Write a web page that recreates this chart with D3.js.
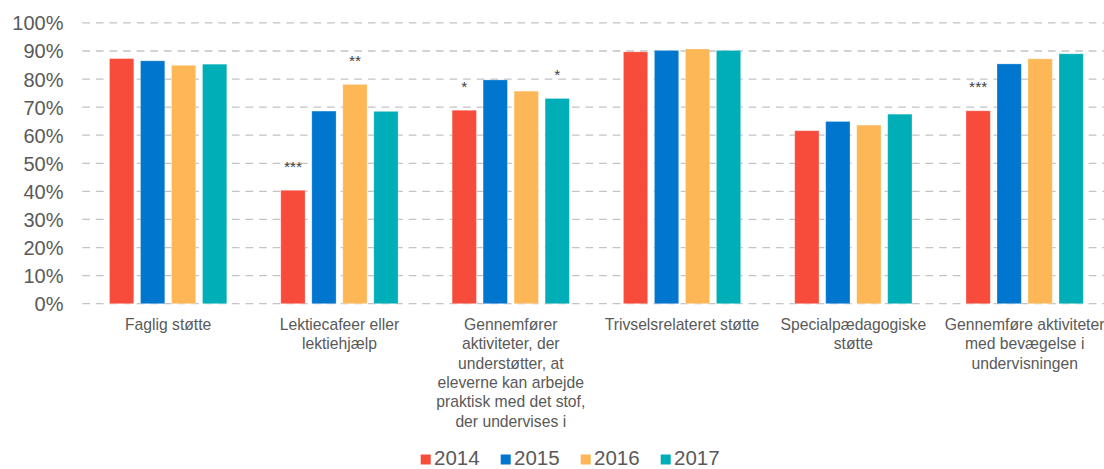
<!DOCTYPE html>
<html>
<head>
<meta charset="utf-8">
<script src="https://cdnjs.cloudflare.com/ajax/libs/d3/7.8.5/d3.min.js"></script>
<style>
html,body{margin:0;padding:0;background:#fff;}
svg{display:block;font-family:"Liberation Sans",Arial,sans-serif;}
</style>
</head>
<body>
<svg id="chart" width="1104" height="469"></svg>
<script>
const categories = ["Faglig støtte","Lektiecafeer eller lektiehjælp","Gennemfører aktiviteter, der understøtter, at eleverne kan arbejde praktisk med det stof, der undervises i","Trivselsrelateret støtte","Specialpædagogiske støtte","Gennemføre aktiviteter med bevægelse i undervisningen"];
const categoryLines = [
  ["Faglig støtte"],
  ["Lektiecafeer eller","lektiehjælp"],
  ["Gennemfører","aktiviteter, der","understøtter, at","eleverne kan arbejde","praktisk med det stof,","der undervises i"],
  ["Trivselsrelateret støtte"],
  ["Specialpædagogiske","støtte"],
  ["Gennemføre aktiviteter","med bevægelse i","undervisningen"]
];
const years = ["2014","2015","2016","2017"];
const v2014 = [0.873, 0.404, 0.689, 0.897, 0.616, 0.687];
const v2015 = [0.865, 0.686, 0.797, 0.902, 0.649, 0.854];
const v2016 = [0.849, 0.781, 0.757, 0.907, 0.636, 0.872];
const v2017 = [0.853, 0.685, 0.731, 0.902, 0.675, 0.890];
const yTicks = [0,0.1,0.2,0.3,0.4,0.5,0.6,0.7,0.8,0.9,1.0];
const tickLabels = ["0%","10%","20%","30%","40%","50%","60%","70%","80%","90%","100%"];
const markCats  = [1, 1, 2, 2, 5];
const markYears = ["2014","2016","2014","2017","2014"];
const markText  = ["***","**","*","*","***"];
const colors = ["#F74C3C","#0076CE","#FDB757","#00AEB8"];

const series = [v2014, v2015, v2016, v2017];
const svg = d3.select("#chart");

const x0 = d3.scaleBand().domain(categories).range([82.5, 1110.3]).paddingInner(0).paddingOuter(0);
const groupHalf = 58.65;
const x1 = d3.scaleBand().domain(years).range([-groupHalf, groupHalf]).paddingInner(0.216).paddingOuter(0);
const y = d3.scaleLinear().domain([0,1]).range([303.7, 22.9]);
const color = d3.scaleOrdinal().domain(years).range(colors);

// gridlines
svg.append("g").selectAll("line").data(yTicks).join("line")
  .attr("x1", 82.3).attr("x2", 1104)
  .attr("y1", d => y(d)).attr("y2", d => y(d))
  .attr("stroke", "#C4C4C4").attr("stroke-width", 1.3)
  .attr("stroke-dasharray", "7.7,5.9");

// y axis labels
const yAxis = d3.axisLeft(y).tickValues(yTicks).tickFormat((d,i) => tickLabels[i]).tickSize(0).tickPadding(0);
const ya = svg.append("g").attr("transform", "translate(63.5,0)").call(yAxis);
ya.select(".domain").remove();
ya.selectAll("text").attr("font-size", "20px").attr("fill", "#595959")
  .attr("font-family", "'Liberation Sans', Arial, sans-serif").attr("dy", "0.35em");

// bars
const flat = [];
categories.forEach((c, ci) => years.forEach((yr, yi) => flat.push({c, ci, yr, v: series[yi][ci]})));
svg.append("g").selectAll("rect").data(flat).join("rect")
  .attr("x", d => x0(d.c) + x0.bandwidth()/2 + x1(d.yr))
  .attr("width", x1.bandwidth())
  .attr("y", d => y(d.v))
  .attr("height", d => y(0) - y(d.v))
  .attr("fill", d => color(d.yr))
  .attr("stroke", "#ffffff").attr("stroke-opacity", 0.35).attr("stroke-width", 0.8);

// significance marks
svg.append("g").selectAll("text").data(markText).join("text")
  .attr("x", (d,i) => x0(categories[markCats[i]]) + x0.bandwidth()/2 + x1(markYears[i]) + x1.bandwidth()/2)
  .attr("y", (d,i) => y(series[years.indexOf(markYears[i])][markCats[i]]) - 18.5)
  .attr("text-anchor", "middle").attr("font-size", "15.5px").attr("fill", "#404040")
  .text(d => d);

// category labels
const cl = svg.append("g").selectAll("text").data(categories).join("text")
  .attr("text-anchor", "middle").attr("font-size", "15.7px").attr("fill", "#595959")
  .attr("transform", d => `translate(${x0(d) + x0.bandwidth()/2},330)`);
cl.each(function(d, i) {
  d3.select(this).selectAll("tspan").data(categoryLines[i]).join("tspan")
    .attr("x", 0).attr("y", (t, j) => j * 19.33).text(t => t);
});

// legend
const lg = svg.append("g").selectAll("g").data(years).join("g")
  .attr("transform", (d,i) => `translate(${420.7 + i*80},0)`);
lg.append("rect").attr("x", 0).attr("y", 454.5).attr("width", 10).attr("height", 10)
  .attr("fill", d => color(d));
lg.append("text").attr("x", 13.3).attr("y", 464.7).attr("font-size", "20.5px").attr("fill", "#595959")
  .text(d => d);
</script>
</body>
</html>
